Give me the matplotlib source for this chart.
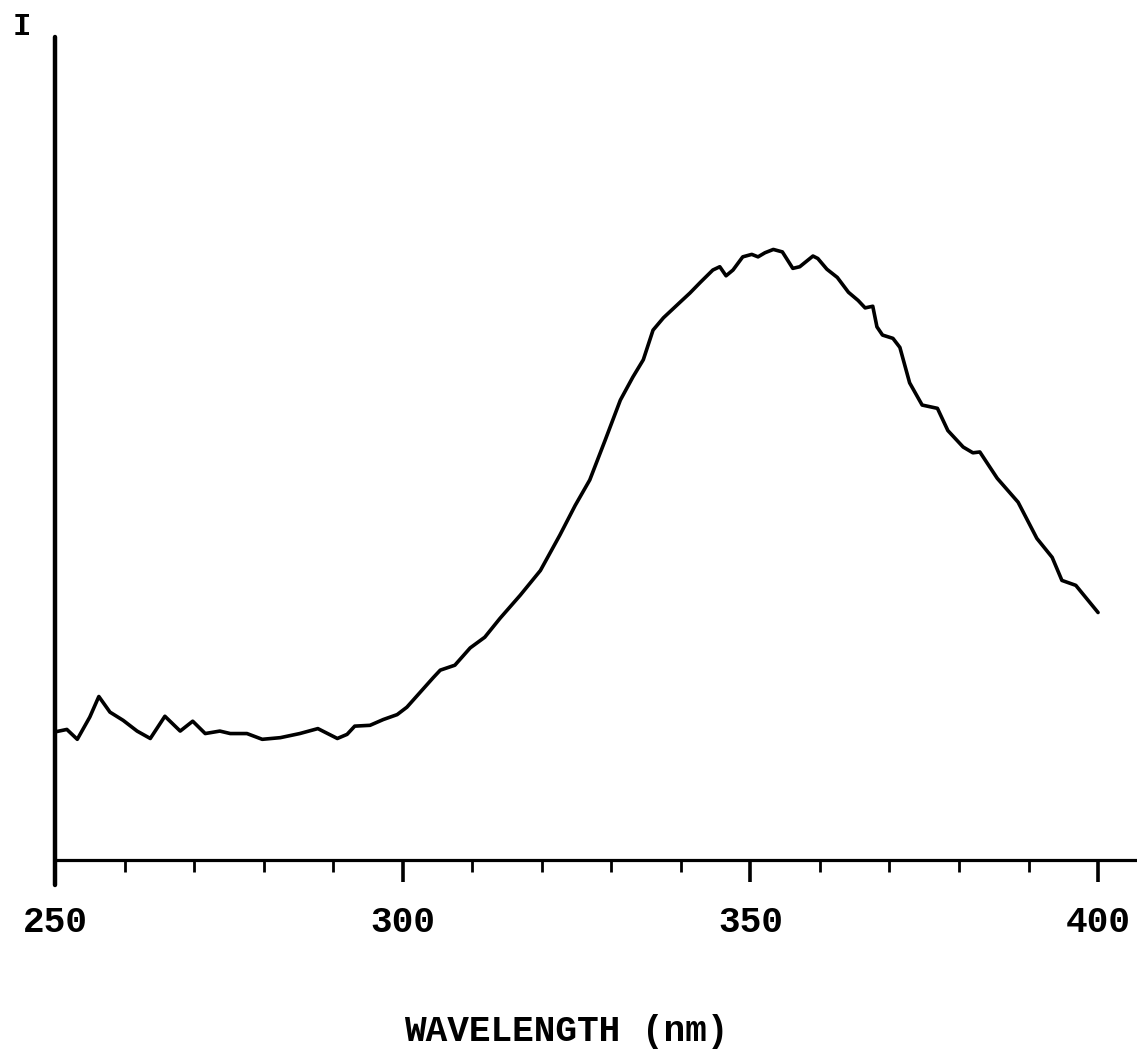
import matplotlib
matplotlib.use("Agg")
import matplotlib.pyplot as plt
from matplotlib.ticker import MultipleLocator

# emission spectrum, intensity in arbitrary units (0-100 full scale)
wavelength = [
    250.0, 251.7, 253.2, 255.0, 256.3, 257.9, 259.8, 261.8, 263.7, 265.8,
    268.0, 269.8, 271.6, 273.7, 275.2, 277.6, 279.8, 282.4, 285.2, 287.8,
    290.6, 292.0, 293.1, 295.3, 297.2, 299.2, 300.6, 302.5, 304.4, 305.4,
    307.5, 309.7, 311.8, 314.0, 316.9, 319.8, 322.6, 324.8, 326.9, 329.1,
    331.3, 333.1, 334.6, 336.0, 337.5, 339.9, 341.3, 342.8, 344.6, 345.6,
    346.5, 347.5, 348.9, 350.2, 351.1, 352.1, 353.3, 354.6, 356.1, 357.1,
    359.0, 359.7, 361.0, 362.5, 364.1, 365.5, 366.5, 367.6, 368.2, 369.0,
    370.5, 371.5, 372.9, 374.7, 376.9, 378.4, 380.6, 382.0, 383.0, 385.5,
    388.5, 391.2, 393.4, 394.8, 396.8, 400.0,
]
intensity = [
    15.6, 15.9, 14.7, 17.4, 19.9, 18.0, 17.0, 15.7, 14.8, 17.5,
    15.7, 16.9, 15.4, 15.7, 15.4, 15.4, 14.7, 14.9, 15.4, 16.0,
    14.8, 15.3, 16.3, 16.4, 17.1, 17.7, 18.6, 20.4, 22.2, 23.1,
    23.7, 25.8, 27.1, 29.4, 32.2, 35.2, 39.5, 43.1, 46.2, 51.0,
    55.9, 58.7, 60.8, 64.4, 65.9, 67.8, 68.9, 70.2, 71.7, 72.1,
    71.0, 71.7, 73.3, 73.6, 73.3, 73.8, 74.2, 73.9, 71.9, 72.1,
    73.4, 73.1, 71.8, 70.8, 69.0, 68.0, 67.1, 67.3, 64.8, 63.8,
    63.4, 62.3, 58.0, 55.3, 54.9, 52.2, 50.2, 49.5, 49.6, 46.4,
    43.5, 39.1, 36.8, 34.0, 33.4, 30.1,
]
tick_labels = ["250", "300", "350", "400"]

mono = "Liberation Mono"

fig = plt.figure(figsize=(11.37, 10.64), dpi=100)
ax = fig.add_axes([0.0484, 0.1682, 1 - 0.0484, 0.797])

ax.plot(wavelength, intensity, color="black", lw=2.6,
        solid_joinstyle="round", solid_capstyle="round")

ax.set_xlim(250, 405.6)
ax.set_ylim(-3, 100)

for side in ("top", "right"):
    ax.spines[side].set_visible(False)
ax.spines["bottom"].set_position(("data", 0))
ax.spines["bottom"].set_linewidth(2.3)
ax.spines["left"].set_linewidth(3.2)
ax.spines["left"].set_bounds(-3, 100)
ax.spines["left"].set_capstyle("round")

ax.set_yticks([])
ax.xaxis.set_major_locator(MultipleLocator(50))
ax.xaxis.set_minor_locator(MultipleLocator(10))
ax.set_xticks([250, 300, 350, 400])
ax.set_xticklabels(tick_labels, fontfamily=mono, fontweight="bold", fontsize=26)
ax.tick_params(axis="x", which="major", direction="out", length=16, width=2.6, pad=16)
ax.tick_params(axis="x", which="minor", direction="out", length=8.5, width=2.0)

fig.text(0.498, 0.031, "WAVELENGTH (nm)", ha="center", va="center",
         fontfamily=mono, fontweight="bold", fontsize=26)
fig.text(0.019, 0.975, "I", ha="center", va="center",
         fontfamily=mono, fontweight="bold", fontsize=22)

fig.savefig("out.png", dpi=100, facecolor="white")
